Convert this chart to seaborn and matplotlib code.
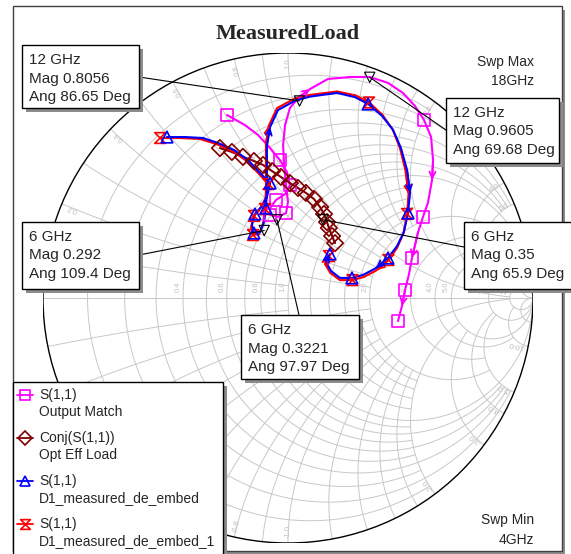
import matplotlib
matplotlib.use("Agg")
import matplotlib.pyplot as plt
import numpy as np
import seaborn as sns
from matplotlib.patches import Circle, ConnectionPatch, Rectangle
from matplotlib.path import Path

# S(1,1) Output Match (magenta, squares)
match_re = [-0.249, -0.176, -0.122, -0.073, -0.033, -0.004, 0.008, -0.012, -0.049, -0.073,
            -0.073, -0.041, -0.008, 0.000, -0.008, -0.016, -0.020, -0.012, 0.008, 0.045,
            0.090, 0.163, 0.253, 0.335, 0.408, 0.469, 0.518, 0.555, 0.584, 0.592,
            0.588, 0.571, 0.551, 0.531, 0.506, 0.494, 0.478, 0.465, 0.449]
match_im = [0.747, 0.706, 0.665, 0.612, 0.563, 0.514, 0.461, 0.424, 0.400, 0.367,
            0.339, 0.331, 0.347, 0.392, 0.461, 0.543, 0.624, 0.706, 0.776, 0.820,
            0.853, 0.894, 0.902, 0.902, 0.878, 0.837, 0.784, 0.727, 0.657, 0.563,
            0.482, 0.388, 0.331, 0.269, 0.163, 0.098, 0.033, -0.033, -0.094]
match_marks = [0, 4, 6, 8, 10, 12, 27, 32, 34, 36, 38]
match_arrows = [19, 29, 33, 36]

# Conj(S(1,1)) Opt Eff Load (maroon, diamonds)
opt_re = [-0.278, -0.229, -0.184, -0.139, -0.102, -0.065, -0.029, 0.008, 0.041,
          0.073, 0.106, 0.131, 0.147, 0.159, 0.167, 0.180, 0.192]
opt_im = [0.612, 0.596, 0.576, 0.559, 0.543, 0.518, 0.494, 0.469, 0.449,
          0.429, 0.404, 0.371, 0.343, 0.310, 0.286, 0.253, 0.224]

# S(1,1) D1_measured_de_embed (blue, triangles)
meas_re = [-0.494, -0.420, -0.347, -0.286, -0.220, -0.163, -0.118, -0.073, -0.086, -0.110,
           -0.135, -0.147, -0.139, -0.114, -0.098, -0.090, -0.086, -0.086, -0.086, -0.073,
           -0.041, 0.030, 0.090, 0.200, 0.273, 0.327, 0.384, 0.429, 0.461, 0.486,
           0.498, 0.490, 0.473, 0.445, 0.408, 0.359, 0.306, 0.261, 0.212, 0.176,
           0.155, 0.171]
meas_im = [0.657, 0.657, 0.653, 0.633, 0.604, 0.563, 0.514, 0.469, 0.412, 0.371,
           0.343, 0.298, 0.265, 0.269, 0.310, 0.367, 0.441, 0.543, 0.624, 0.698,
           0.767, 0.806, 0.822, 0.837, 0.820, 0.792, 0.743, 0.686, 0.612, 0.522,
           0.429, 0.347, 0.269, 0.212, 0.163, 0.122, 0.094, 0.082, 0.082, 0.110,
           0.147, 0.180]
meas_marks = [0, 7, 10, 12, 15, 25, 31, 34, 37, 41]
meas_arrows = [18, 29, 34, 40]

# S(1,1) D1_measured_de_embed_1 (red, hourglass)
meas1_re = [-0.522, -0.441, -0.359, -0.294, -0.227, -0.168, -0.122, -0.080, -0.090, -0.114,
            -0.139, -0.151, -0.143, -0.118, -0.102, -0.094, -0.090, -0.090, -0.090, -0.078,
            -0.045, 0.027, 0.090, 0.200, 0.276, 0.331, 0.386, 0.427, 0.457, 0.480,
            0.492, 0.486, 0.471, 0.445, 0.410, 0.363, 0.310, 0.263, 0.212, 0.173,
            0.151, 0.167]
meas1_im = [0.653, 0.653, 0.649, 0.629, 0.600, 0.559, 0.510, 0.465, 0.408, 0.365,
            0.335, 0.290, 0.257, 0.261, 0.302, 0.363, 0.441, 0.547, 0.629, 0.704,
            0.775, 0.814, 0.829, 0.843, 0.827, 0.798, 0.747, 0.688, 0.612, 0.518,
            0.425, 0.343, 0.263, 0.204, 0.155, 0.114, 0.086, 0.073, 0.073, 0.102,
            0.139, 0.171]
meas1_marks = [0, 7, 10, 12, 15, 25, 31, 34, 37, 41]
meas1_arrows = [18, 29, 34, 40]

# marker readouts
readout_freq = ["12 GHz", "12 GHz", "6 GHz", "6 GHz", "6 GHz"]
readout_mag = [0.8056, 0.9605, 0.292, 0.35, 0.3221]
readout_ang = [86.65, 69.68, 109.4, 65.9, 97.97]

# Smith chart grid
grid_r = [0.1, 0.2, 0.3, 0.4, 0.5, 0.6, 0.7, 0.8, 0.9, 1.0, 1.2, 1.4, 1.6, 1.8, 2.0, 3.0, 4.0, 5.0, 10.0, 20.0]
grid_r_xmax = [2, 5, 2, 5, 2, 5, 2, 5, 2, np.inf, 2, 2, 2, 2, 5, 5, 10, np.inf, np.inf, np.inf]
grid_x = [0.1, 0.2, 0.3, 0.4, 0.5, 0.6, 0.7, 0.8, 0.9, 1.0, 1.2, 1.4, 1.6, 1.8, 2.0, 3.0, 4.0, 5.0, 10.0, 20.0]
grid_x_rmax = [1, 2, 1, 2, 1, 2, 1, 2, 1, 20, 2, 2, 2, 2, 5, 5, 10, 10, 20, np.inf]
axis_labels = [0.2, 0.4, 0.6, 0.8, 1.0, 2.0, 3.0, 4.0, 5.0, 10.0, 20.0]
rim_labels = [0.2, 0.4, 0.6, 0.8, 1.0, 2.0, 3.0, 4.0, 5.0, 10.0]

MAGENTA, MAROON, BLUE, RED = "#ff00ff", "#800000", "#0000ff", "#ff0000"
GRID, GRID_TEXT = "#c8c8c8", "#c0c0c0"

W, H = 571, 554
CX, CY, RAD = 288, 298, 245

sns.set_style("white")
plt.rcParams["font.family"] = ["Liberation Sans", "DejaVu Sans"]

HOURGLASS = Path([(-1, 1), (1, 1), (-1, -1), (1, -1), (-1, 1)],
                 [Path.MOVETO, Path.LINETO, Path.LINETO, Path.LINETO, Path.CLOSEPOLY])


def to_gamma(z):
    return (z - 1) / (z + 1)


fig = plt.figure(figsize=(W / 100, H / 100), dpi=100)
bg = fig.add_axes([0, 0, 1, 1], zorder=0)
ax = fig.add_axes([(CX - RAD) / W, (H - CY - RAD) / H, 2 * RAD / W, 2 * RAD / H], zorder=1)
top = fig.add_axes([0, 0, 1, 1], zorder=2)
for a in (bg, top):
    a.set_xlim(0, W)
    a.set_ylim(H, 0)
    a.axis("off")
ax.set_xlim(-1, 1)
ax.set_ylim(-1, 1)
ax.axis("off")

# outer frame with shadow
bg.add_patch(Rectangle((16, 10), 549, 550, fc="#8c8c8c", ec="none"))
bg.add_patch(Rectangle((13, 6), 549, 545, fc="white", ec="#404040", lw=1))

# grid
for r, xmax in zip(grid_r, grid_r_xmax):
    t = np.linspace(-np.arctan(xmax), np.arctan(xmax), 400)
    g = to_gamma(r + 1j * np.tan(t))
    ax.plot(g.real, g.imag, color=GRID, lw=0.7, zorder=1)
for x, rmax in zip(grid_x, grid_x_rmax):
    t = np.linspace(0, np.arctan(rmax), 400)
    for sgn in (1, -1):
        g = to_gamma(np.tan(t) + 1j * sgn * x)
        ax.plot(g.real, g.imag, color=GRID, lw=0.7, zorder=1)
ax.plot([-1, 1], [0, 0], color=GRID, lw=0.7, zorder=1)
ax.add_patch(Circle((0, 0), 1, fill=False, ec="black", lw=1.0, zorder=2))

ax.text(-1 + 10 / RAD, 10 / RAD, "0", rotation=90, fontsize=5.5, color=GRID_TEXT,
        ha="center", va="center", zorder=1)
for r in axis_labels:
    gx = to_gamma(r)
    ax.text(gx - 5 / RAD, 11 / RAD, f"{r:.1f}", rotation=90, fontsize=5.5,
            color=GRID_TEXT, ha="center", va="center", zorder=1)
for x in rim_labels:
    th = np.pi - 2 * np.arctan(x)
    for sgn in (1, -1):
        a = sgn * th
        rot = np.degrees(a) if sgn > 0 else np.degrees(a) + 180
        lab = f"{x:.1f}" if sgn > 0 else f"-{x:.1f}"
        ax.text(0.955 * np.cos(a), 0.955 * np.sin(a), lab, rotation=rot, fontsize=5.5,
                color=GRID_TEXT, ha="center", va="center", rotation_mode="anchor", zorder=1)


def trace(re, im, color, marks, marker, size, arrows):
    sns.lineplot(x=re, y=im, sort=False, estimator=None, color=color, lw=1.5, ax=ax, zorder=4)
    sns.scatterplot(x=[re[i] for i in marks], y=[im[i] for i in marks], marker=marker, s=size,
                    facecolor="none", edgecolor=color, linewidth=1.2, ax=ax, zorder=5)
    for i in arrows:
        ax.annotate("", xy=(re[i + 1], im[i + 1]), xytext=(re[i], im[i]),
                    arrowprops=dict(arrowstyle="->,head_length=0.45,head_width=0.22",
                                    color=color, lw=1.3, shrinkA=0, shrinkB=0), zorder=5)


trace(match_re, match_im, MAGENTA, match_marks, "s", 80, match_arrows)
trace(opt_re, opt_im, MAROON, range(len(opt_re)), "D", 70, [])
trace(meas1_re, meas1_im, RED, meas1_marks, HOURGLASS, 60, meas1_arrows)
trace(meas_re, meas_im, BLUE, meas_marks, "^", 70, meas_arrows)

# readout markers, boxes and leader lines
g_mark = [m * np.exp(1j * np.radians(a)) for m, a in zip(readout_mag, readout_ang)]
sns.scatterplot(x=[g.real for g in g_mark], y=[g.imag for g in g_mark], marker="v", s=55,
                facecolor="none", edgecolor="black", linewidth=0.8, ax=ax, zorder=6)

boxes = [(22, 45, 139, 108), (446, 98, 559, 163), (22, 222, 139, 289),
         (464, 222, 590, 289), (241, 315, 359, 379)]
attach = [(139, 77), (446, 130), (139, 255), (464, 247), (299, 315)]


def panel(x0, y0, x1, y1, z=3):
    top.add_patch(Rectangle((x0 + 4, y0 + 4), x1 - x0, y1 - y0, fc="#8c8c8c", ec="none", zorder=z))
    top.add_patch(Rectangle((x0, y0), x1 - x0, y1 - y0, fc="white", ec="black", lw=1, zorder=z + 0.1))


for g, (x0, y0, x1, y1), pt, f, m, a in zip(g_mark, boxes, attach, readout_freq,
                                             readout_mag, readout_ang):
    con = ConnectionPatch(xyA=(g.real, g.imag), coordsA=ax.transData, xyB=pt,
                          coordsB=top.transData, color="black", lw=0.8, zorder=2)
    top.add_artist(con)
    panel(x0, y0, x1, y1)
    for k, line in enumerate([f, f"Mag {m:g}", f"Ang {a:g} Deg"]):
        top.text(x0 + 7, y0 + 15 + 18.5 * k, line, fontsize=11, ha="left", va="center", zorder=4)

top.text(288, 34, "MeasuredLoad", ha="center", va="center", fontsize=16, fontweight="bold",
         family=["Liberation Serif", "DejaVu Serif"])
top.text(534, 62, "Swp Max", ha="right", va="center", fontsize=10)
top.text(534, 81, "18GHz", ha="right", va="center", fontsize=10)
top.text(534, 520, "Swp Min", ha="right", va="center", fontsize=10)
top.text(534, 540, "4GHz", ha="right", va="center", fontsize=10)

# legend
panel(13, 382, 223, 560)
legend_items = [(MAGENTA, "s", "S(1,1)", "Output Match"),
                (MAROON, "D", "Conj(S(1,1))", "Opt Eff Load"),
                (BLUE, "^", "S(1,1)", "D1_measured_de_embed"),
                (RED, HOURGLASS, "S(1,1)", "D1_measured_de_embed_1")]
for k, (col, mk, l1, l2) in enumerate(legend_items):
    y = 395 + 43 * k
    top.plot([17, 33], [y, y], color=col, lw=1.3, zorder=4)
    top.plot([25], [y], marker=mk, ms=7, mfc="none", mec=col, mew=1.2, zorder=4)
    top.text(39, y, l1, fontsize=10, ha="left", va="center", zorder=4)
    top.text(39, y + 17, l2, fontsize=10, ha="left", va="center", zorder=4)

fig.savefig("out.png", dpi=100)
